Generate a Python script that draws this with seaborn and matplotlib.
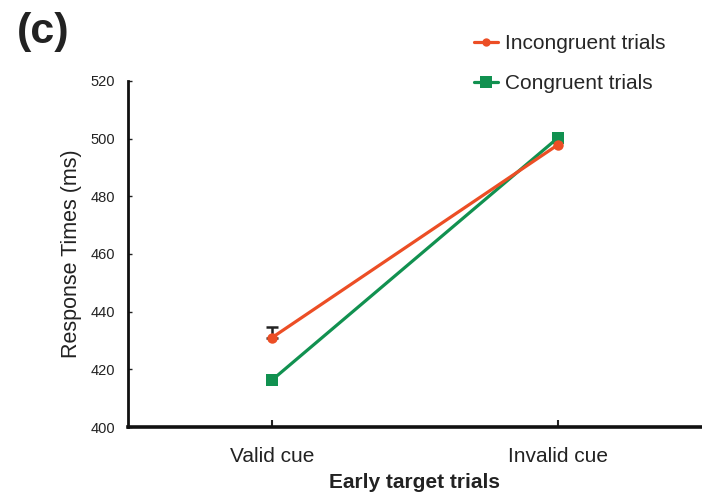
import matplotlib
matplotlib.use("Agg")
import matplotlib.pyplot as plt
from matplotlib.lines import Line2D
import seaborn as sns
import pandas as pd

# Mean response times (ms) for early target trials
cues = ["Valid cue", "Invalid cue"]
incongruent_rt = [431.0, 497.8]
congruent_rt = [416.3, 500.2]
incongruent_err_upper = [3.6, 0.0]

series_names = ["Incongruent trials", "Congruent trials"]
palette = {"Incongruent trials": "#EC4E25", "Congruent trials": "#119150"}
markers = {"Incongruent trials": "o", "Congruent trials": "s"}

df = pd.DataFrame({
    "cue": cues * 2,
    "rt": incongruent_rt + congruent_rt,
    "condition": [series_names[0]] * 2 + [series_names[1]] * 2,
})

sns.set_style("ticks")
plt.rcParams["font.family"] = ["Liberation Sans", "DejaVu Sans"]

fig = plt.figure(figsize=(7.02, 4.96), dpi=100)
ax = fig.add_axes([0.182, 0.139, 0.816, 0.698])

# congruent drawn first so the incongruent markers sit on top
for name, z in [("Congruent trials", 3), ("Incongruent trials", 4)]:
    sub = df[df["condition"] == name]
    sns.lineplot(data=sub, x="cue", y="rt", color=palette[name],
                 marker=markers[name], markersize=9 if markers[name] == "s" else 7.5,
                 markeredgewidth=0, linewidth=2.3, ax=ax, zorder=z,
                 legend=False, sort=False)

ax.errorbar([0], [incongruent_rt[0]], yerr=[[0], [incongruent_err_upper[0]]],
            fmt="none", ecolor="#222222", elinewidth=1.8, capsize=4, capthick=1.8,
            zorder=2)

ax.set_xlim(-0.505, 1.5)
ax.set_ylim(400, 520)
ax.set_yticks(range(400, 521, 20))
ax.set_xticks([0, 1])
ax.set_xticklabels(cues)

sns.despine(ax=ax)
ax.spines["left"].set_linewidth(2.0)
ax.spines["bottom"].set_linewidth(2.6)
ax.spines["left"].set_color("#111111")
ax.spines["bottom"].set_color("#111111")

ax.tick_params(axis="y", direction="in", length=3, width=1.0, labelsize=10.5,
               pad=9, colors="#222222")
ax.tick_params(axis="x", direction="in", length=5, width=1.5, labelsize=15,
               pad=14.5, colors="#222222")

ax.set_ylabel("Response Times (ms)", fontsize=15.5, labelpad=6, color="#222222")
ax.set_xlabel("Early target trials", fontsize=15, fontweight="bold",
              labelpad=5, color="#222222")

fig.text(0.024, 0.975, "(c)", fontsize=31, fontweight="bold",
         va="top", ha="left", color="#222222")

handles = [
    Line2D([], [], color=palette["Incongruent trials"], marker="o",
           markersize=6, markeredgewidth=0, linewidth=2.3),
    Line2D([], [], color=palette["Congruent trials"], marker="s",
           markersize=8, markeredgewidth=0, linewidth=2.3),
]
fig.legend(handles, series_names, loc="upper left",
           bbox_to_anchor=(0.655, 0.96), frameon=False, fontsize=15,
           handlelength=1.15, handletextpad=0.3, labelspacing=1.0,
           borderpad=0.2)

fig.savefig("out.png", dpi=100)
